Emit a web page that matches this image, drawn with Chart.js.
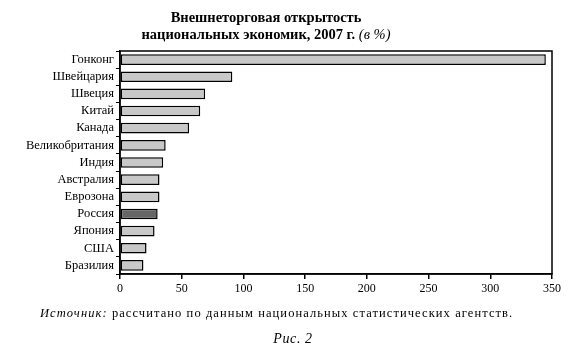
<!DOCTYPE html>
<html>
<head>
<meta charset="utf-8">
<script src="https://cdn.jsdelivr.net/npm/chart.js@4"></script>
<style>
    body { margin: 0; background: #fff; font-family: "Liberation Serif", serif; }
    #wrap { position: relative; width: 577px; height: 362px; }
    #chart-box { position: absolute; left: 0; top: 0; width: 577px; height: 362px; }
    .title { position: absolute; left: 0; width: 532px; text-align: center; font-weight: bold; font-size: 14.5px; color: #000; white-space: nowrap; }
    .source { position: absolute; left: 40px; top: 306px; font-size: 12.5px; color: #000; white-space: nowrap; letter-spacing: 1.08px; }
    .fig { position: absolute; left: 0; width: 586px; top: 331px; text-align: center; font-size: 14px; font-style: italic; letter-spacing: 0.6px; }
</style>
</head>
<body>
<div id="wrap">
    <div id="chart-box"><canvas id="trade-chart"></canvas></div>
    <div class="title" style="top: 9px;">Внешнеторговая открытость</div>
    <div class="title" style="top: 26px;">национальных экономик, 2007 г. <i style="font-weight: normal;">(в %)</i></div>
    <div class="source"><i>Источник:</i> рассчитано по данным национальных статистических агентств.</div>
    <div class="fig">Рис. 2</div>
</div>
<script>
// Data
const countries = ['Гонконг', 'Швейцария', 'Швеция', 'Китай', 'Канада', 'Великобритания', 'Индия',
    'Австралия', 'Еврозона', 'Россия', 'Япония', 'США', 'Бразилия'];
const openness = [345, 91, 69, 65, 56, 37, 35, 32, 32, 30.5, 28, 21.5, 19];
const xTicks = [0, 50, 100, 150, 200, 250, 300, 350];
const highlight = 'Россия';

const barColors = countries.map(c => c === highlight ? '#666666' : '#c8c8c8');

// draws the frame around the plot area
const framePlugin = {
    id: 'frame',
    afterDraw(chart) {
        const a = chart.chartArea;
        const ctx = chart.ctx;
        ctx.save();
        ctx.strokeStyle = '#000';
        ctx.lineWidth = 1.5;
        ctx.strokeRect(a.left, a.top, a.right - a.left, a.bottom - a.top);
        ctx.restore();
    }
};

function drawChart() {
    try {
        const ctx = document.getElementById('trade-chart').getContext('2d');
        new Chart(ctx, {
            type: 'bar',
            data: {
                labels: countries,
                datasets: [{
                    data: openness,
                    backgroundColor: barColors,
                    borderColor: '#000',
                    borderWidth: 1.5,
                    borderSkipped: false,
                    categoryPercentage: 1,
                    barPercentage: 0.62
                }]
            },
            options: {
                indexAxis: 'y',
                responsive: true,
                maintainAspectRatio: false,
                animation: false,
                layout: { padding: { left: 0, top: 51, right: 25, bottom: 70 } },
                plugins: {
                    legend: { display: false },
                    tooltip: { enabled: false }
                },
                scales: {
                    x: {
                        min: 0,
                        max: 350,
                        afterBuildTicks(scale) {
                            scale.ticks = xTicks.map(v => ({ value: v }));
                        },
                        afterFit(scale) { scale.height = 18; },
                        grid: { drawOnChartArea: false, drawTicks: true, tickLength: 5, color: '#000', lineWidth: 1.5 },
                        border: { color: '#000', width: 1.5 },
                        ticks: {
                            color: '#000',
                            padding: 3,
                            maxRotation: 0,
                            font: { family: 'Liberation Serif', size: 12 }
                        }
                    },
                    y: {
                        afterFit(scale) { scale.width = 120; },
                        grid: { drawOnChartArea: false, drawTicks: true, tickLength: 4, color: '#000', lineWidth: 1, offset: true },
                        border: { color: '#000', width: 1.5 },
                        ticks: {
                            color: '#000',
                            padding: 2,
                            autoSkip: false,
                            font: { family: 'Liberation Serif', size: 12.5 }
                        }
                    }
                }
            },
            plugins: [framePlugin]
        });
    } catch (e) {
        console.warn('Chart error:', e);
    }
}

drawChart();
</script>
</body>
</html>
